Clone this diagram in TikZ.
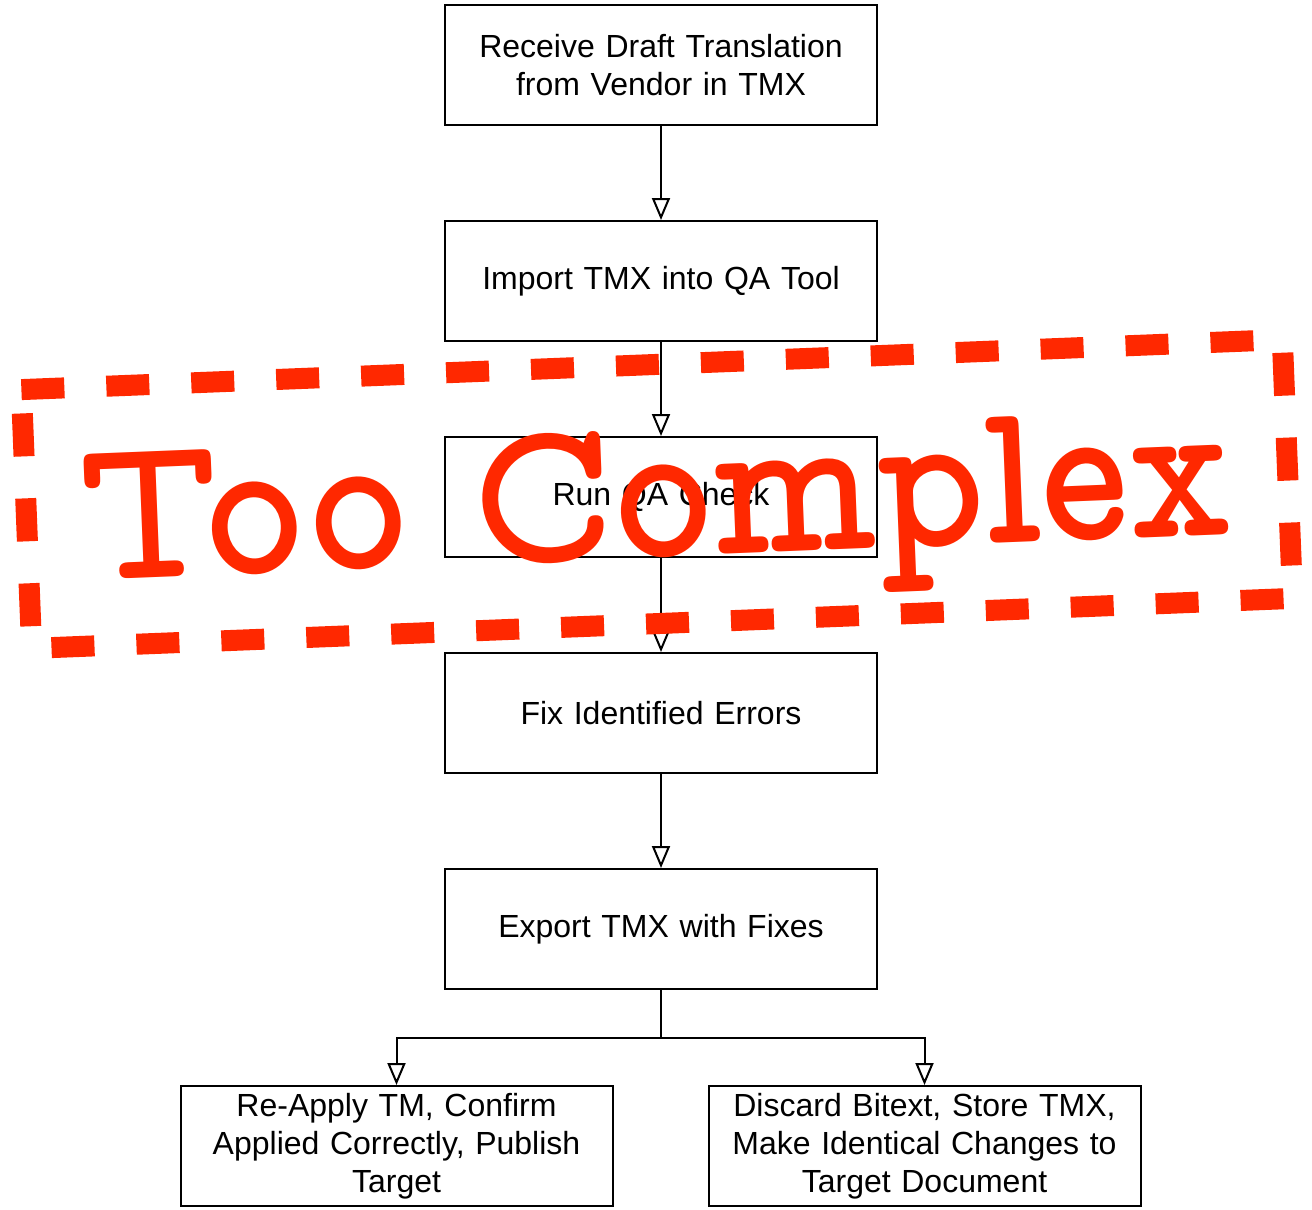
\documentclass[tikz,border=0pt]{standalone}
\usepackage{fontspec}
\usepackage{graphicx}
\setmainfont{Liberation Sans}
\newfontfamily\stampfont{lmmonoproplt10-bold.otf}
\usetikzlibrary{arrows.meta}
\definecolor{stampred}{RGB}{255,40,0}
\begin{document}
\begin{tikzpicture}[x=1pt,y=-1pt,
  stepbox/.style={draw, line width=2pt, minimum width=432pt, minimum height=120pt,
    inner sep=2pt, align=center, text width=420pt,
    font=\fontsize{32}{38}\selectfont},
  flow/.style={line width=2pt, -{Triangle[open, width=18pt, length=22pt]}},
  link/.style={line width=2pt},
  stampline/.style={draw=stampred, line width=21pt, dash pattern=on 43pt off 42pt},
  stamptext/.style={text=stampred, inner sep=0pt,
    font=\stampfont\fontsize{206}{206}\selectfont}]
\useasboundingbox (0,0) rectangle (1312,1210);

% process steps
\node[stepbox] (recv) at (661,65) {Receive Draft Translation\\from Vendor in TMX};
\node[stepbox] (imp) at (661,281) {Import TMX into QA Tool};
\node[stepbox] (run) at (661,497) {Run QA Check};
\node[stepbox] (fix) at (661,713) {Fix Identified Errors};
\node[stepbox] (exp) at (661,929) {Export TMX with Fixes};
\node[stepbox] (reapply) at (396.5,1146) {Re-Apply TM, Confirm\\Applied Correctly, Publish\\Target};
\node[stepbox] (discard) at (924.5,1146) {Discard Bitext, Store TMX,\\Make Identical Changes to\\Target Document};

% connectors
\draw[flow] (recv) -- (imp);
\draw[flow] (imp) -- (run);
\draw[flow] (run) -- (fix);
\draw[flow] (fix) -- (exp);
\draw[link] (exp.south) -- ++(0,48) coordinate (split);
\draw[flow] (split) -| (reapply.north);
\draw[flow] (split) -| (discard.north);

% rubber stamp on top
\begin{scope}[rotate around={2.27:(657,494)}]
  \draw[stampline] (26,364.5) -- (1288,364.5) -- (1288,623.5) -- (26,623.5) -- cycle;
\end{scope}
\node[stamptext, anchor=base, rotate=2.3] (stamp) at (658,557) {\scalebox{0.91}[1]{Too Complex}};
\end{tikzpicture}
\end{document}
